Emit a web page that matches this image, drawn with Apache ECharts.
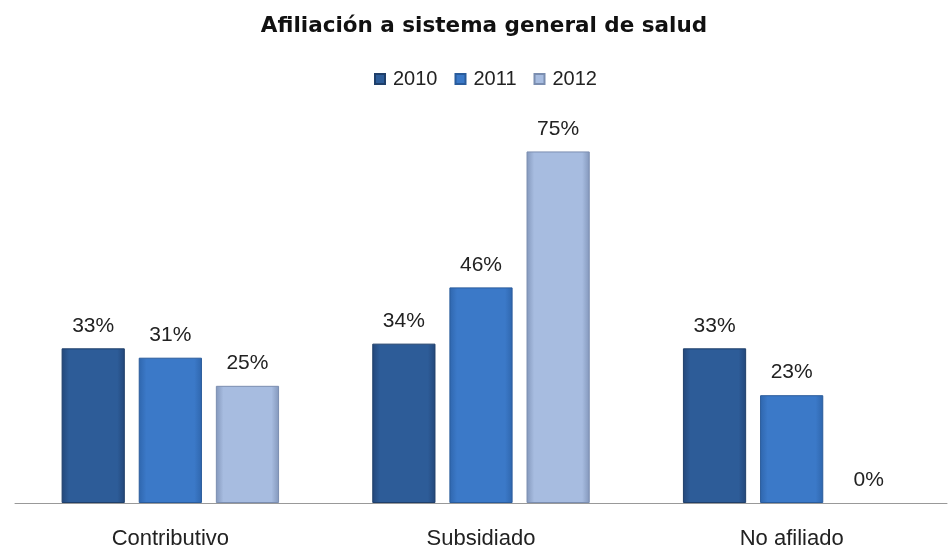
<!DOCTYPE html>
<html><head><meta charset="utf-8">
<script src="https://cdn.jsdelivr.net/npm/echarts@6/dist/echarts.min.js"></script>
<style>html,body{margin:0;padding:0;background:#fff}#c{width:949px;height:554px}</style>
</head><body><div id="c"></div>
<script>
const title = 'Afiliación a sistema general de salud';
const categories = ['Contributivo', 'Subsidiado', 'No afiliado'];
const seriesNames = ['2010', '2011', '2012'];
const values2010 = [33, 34, 33];
const values2011 = [31, 46, 23];
const values2012 = [25, 75, 0];

function grad(edge, mid) {
  return new echarts.graphic.LinearGradient(0, 0, 1, 0, [
    {offset: 0, color: edge}, {offset: 0.12, color: mid}, {offset: 0.88, color: mid}, {offset: 1, color: edge}
  ]);
}
const styles = [
  {fill: grad('#23477a', '#2d5c98'), border: '#1f3f6a', legend: '#2d5c98'},
  {fill: grad('#2f66ad', '#3b79c8'), border: '#2a5c9c', legend: '#3b79c8'},
  {fill: grad('#8397bb', '#a7bce0'), border: '#7b8eb0', legend: '#a7bce0'}
];
const data = [values2010, values2011, values2012];
const chart = echarts.init(document.getElementById('c'));
chart.setOption({
  animation: false,
  title: {text: title, left: 479, textAlign: 'center', top: 10, textStyle: {fontFamily: 'DejaVu Sans', fontWeight: 'bold', fontSize: 21.5, color: '#111'}},
  legend: {top: 64, left: 369, itemWidth: 10, itemHeight: 10, itemGap: 17, icon: 'rect',
    textStyle: {fontFamily: 'Liberation Sans', fontSize: 20, color: '#222', padding: [0, 0, 0, 3]}},
  grid: {left: 15, right: 2, top: 128, bottom: 51, containLabel: false},
  xAxis: {type: 'category', data: categories,
    axisLine: {lineStyle: {color: '#999', width: 1}}, axisTick: {show: false},
    axisLabel: {fontFamily: 'Liberation Sans', fontSize: 22, color: '#222', margin: 25}},
  yAxis: {type: 'value', min: 0, max: 80, show: false, splitLine: {show: false}},
  series: seriesNames.map((n, i) => ({
    name: n, type: 'bar',
    data: data[i].map(v => v === 0 ? {value: v, itemStyle: {borderWidth: 0}} : v),
    barGap: '22%', barCategoryGap: '30%',
    itemStyle: {color: styles[i].fill, borderColor: styles[i].border, borderWidth: 1},
    label: {show: true, position: 'top', distance: 12, formatter: '{c}%', fontFamily: 'Liberation Sans', fontSize: 21, color: '#222'}
  })),
  color: styles.map(s => s.legend)
});
</script></body></html>
